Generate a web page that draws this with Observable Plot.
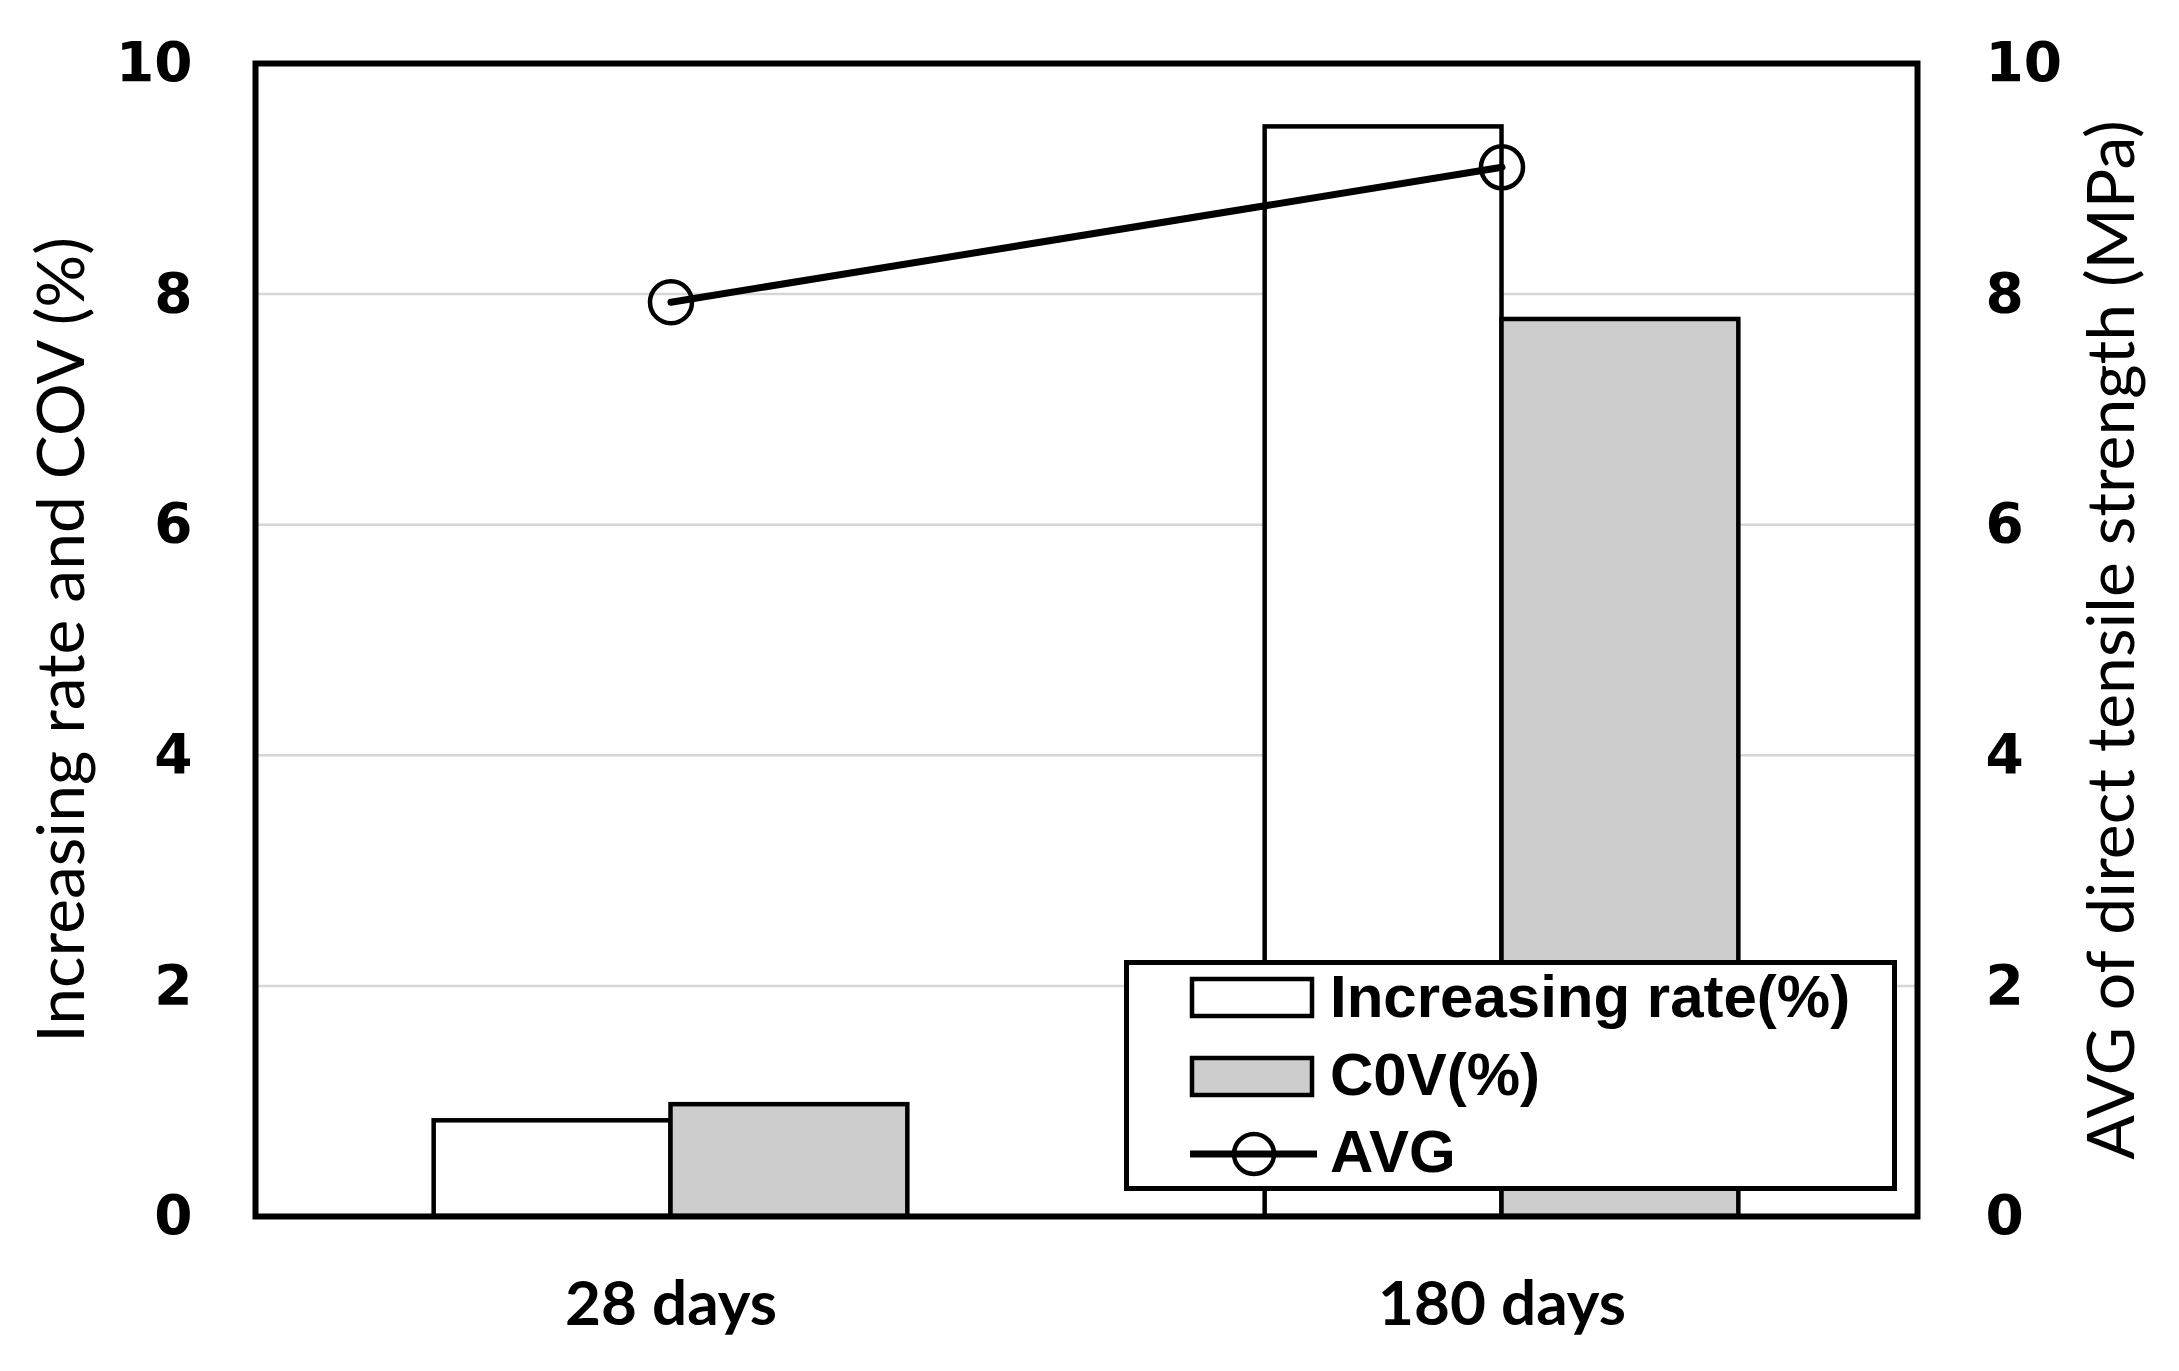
<!DOCTYPE html>
<html>
<head>
<meta charset="utf-8">
<script src="https://cdn.jsdelivr.net/npm/d3@7"></script>
<script src="https://cdn.jsdelivr.net/npm/@observablehq/plot@0.6"></script>
<style>
  html, body { margin: 0; padding: 0; background: #fff; }
  #wrap { position: relative; width: 2179px; height: 1371px; overflow: hidden; }
  #wrap svg.plot { position: absolute; left: 0; top: 0; }
  g[aria-label="y-axis label"] { font-family: Lato, "Liberation Sans", sans-serif; font-size: 66px; font-weight: normal; }
  #legend { position: absolute; left: 1124px; top: 960px; }
  #legend text { font-family: "Liberation Sans", Arial, sans-serif; font-weight: bold; font-size: 60px; fill: #000; }
</style>
</head>
<body>
<div id="wrap"></div>
<script>
// ---- data ----
const days = ["28 days", "180 days"];
const increasingRate = [0.83, 9.45];   // Increasing rate (%)
const cov = [0.97, 7.78];              // COV (%)
const avg = [7.93, 9.10];              // AVG of direct tensile strength (MPa)
const yTicks = [0, 2, 4, 6, 8, 10];
const gridTicks = [2, 4, 6, 8];
const seriesLabels = ["Increasing rate(%)", "C0V(%)", "AVG"];

// table built from the arrays
const rows = days.map((day, i) => ({
  day, pos: i + 0.5, ir: increasingRate[i], cov: cov[i], avg: avg[i]
}));
const barW = 0.285; // bar width as a fraction of one category

const tickFont = {fontFamily: "DejaVu Sans, Verdana, sans-serif", fontWeight: "bold", fontSize: 55};

const chart = Plot.plot({
  width: 2179,
  height: 1371,
  marginLeft: 255,
  marginRight: 262,
  marginTop: 63,
  marginBottom: 155,
  x: {type: "linear", domain: [0, days.length]},
  y: {domain: [0, 10]},
  style: {background: "white", color: "black", overflow: "visible"},
  marks: [
    Plot.gridY(gridTicks, {stroke: "#d6d6d6", strokeOpacity: 1, strokeWidth: 2.5}),
    Plot.rectY(rows, {x1: d => d.pos - barW, x2: "pos", y1: 0, y2: "ir",
      fill: "white", stroke: "black", strokeWidth: 4.5}),
    Plot.rectY(rows, {x1: "pos", x2: d => d.pos + barW, y1: 0, y2: "cov",
      fill: "#cdcdcd", stroke: "black", strokeWidth: 4.5}),
    Plot.line(rows, {x: "pos", y: "avg", stroke: "black", strokeWidth: 7}),
    Plot.dot(rows, {x: "pos", y: "avg", r: 21, stroke: "black", strokeWidth: 4.5, fill: "none"}),
    Plot.frame({stroke: "black", strokeWidth: 6}),
    Plot.axisY(yTicks, {
      anchor: "left", tickSize: 0, tickPadding: 63, tickFormat: d => String(d), ...tickFont,
      label: "Increasing rate and COV (%)", labelAnchor: "center", labelArrow: "none", labelOffset: 218
    }),
    Plot.axisY(yTicks, {
      anchor: "right", tickSize: 0, tickPadding: 68, tickFormat: d => String(d), ...tickFont,
      label: "AVG of direct tensile strength (MPa)", labelAnchor: "center", labelArrow: "none", labelOffset: 216
    }),
    Plot.axisX(rows.map(d => d.pos), {
      tickSize: 0, tickPadding: 64,
      tickFormat: v => days[Math.floor(v)],
      fontFamily: "Lato, Liberation Sans, sans-serif", fontWeight: "bold", fontSize: 62,
      label: null
    })
  ]
});
chart.classList.add("plot");
document.getElementById("wrap").appendChild(chart);

// ---- legend (drawn over the plot, as in the reference) ----
const NS = "http://www.w3.org/2000/svg";
const lg = document.createElementNS(NS, "svg");
lg.setAttribute("id", "legend");
lg.setAttribute("width", 773);
lg.setAttribute("height", 231);
function el(tag, attrs, text) {
  const e = document.createElementNS(NS, tag);
  for (const k in attrs) e.setAttribute(k, attrs[k]);
  if (text != null) e.textContent = text;
  lg.appendChild(e);
  return e;
}
el("rect", {x: 2.5, y: 2.5, width: 768, height: 226, fill: "#fff", stroke: "#000", "stroke-width": 5});
el("rect", {x: 68, y: 19, width: 120, height: 37, fill: "#fff", stroke: "#000", "stroke-width": 4.5});
el("rect", {x: 68, y: 98, width: 120, height: 37, fill: "#cdcdcd", stroke: "#000", "stroke-width": 4.5});
el("line", {x1: 66, x2: 193, y1: 194, y2: 194, stroke: "#000", "stroke-width": 7});
el("circle", {cx: 130, cy: 194, r: 20, fill: "none", stroke: "#000", "stroke-width": 4.5});
el("text", {x: 206, y: 57}, seriesLabels[0]);
el("text", {x: 206, y: 135}, seriesLabels[1]);
el("text", {x: 206, y: 212}, seriesLabels[2]);
document.getElementById("wrap").appendChild(lg);
</script>
</body>
</html>
